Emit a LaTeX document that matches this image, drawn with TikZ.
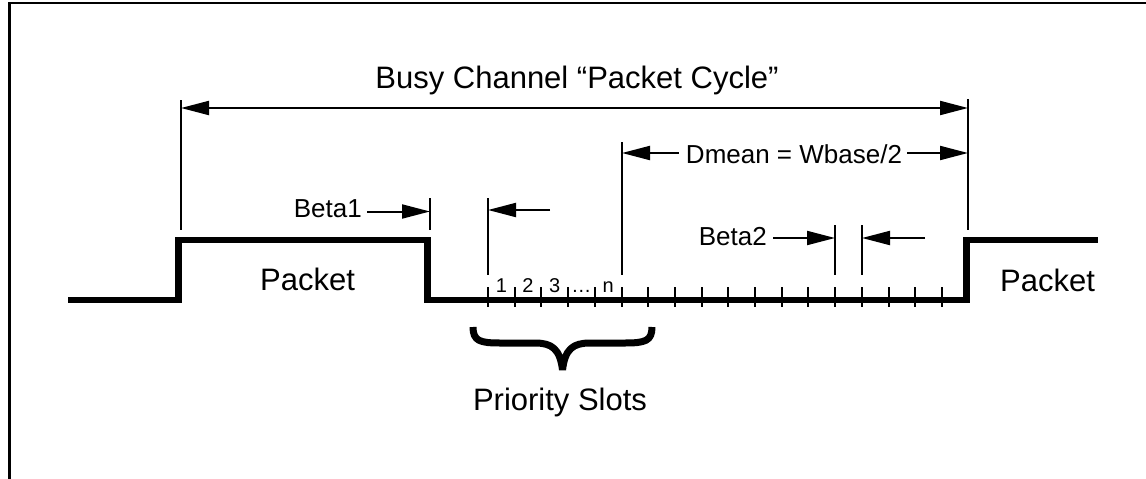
\documentclass[tikz,border=0pt]{standalone}
\usepackage{fontspec}
\setmainfont{Liberation Sans}
\usetikzlibrary{arrows.meta}
\begin{document}
\begin{tikzpicture}[x=1pt,y=-1pt,
  thinline/.style={line width=2pt},
  signal/.style={line width=6.5pt, line join=miter},
  dimarrow/.style={line width=2pt,-{Triangle[length=28pt,width=14pt]}},
  dimboth/.style={line width=2pt,{Triangle[length=28pt,width=14pt]}-{Triangle[length=28pt,width=14pt]}},
  lbl/.style={inner sep=0pt, font=\fontsize{26}{30}\selectfont},
  bigtext/.style={inner sep=0pt, font=\fontsize{31}{36}\selectfont},
  slotnum/.style={inner sep=0pt, font=\fontsize{20}{22}\selectfont, anchor=base},
]
\useasboundingbox (0,0) rectangle (1146,479);

% frame (top and left edges)
\draw[line width=2.5pt] (9.3,479) -- (9.3,3.2) -- (1146,3.2);

% channel signal
\draw[signal] (68,300) -- (178.5,300) -- (178.5,240) -- (427.5,240)
  -- (427.5,300) -- (966.5,300) -- (966.5,240) -- (1098,240);

% slot ticks and slot numbers
\foreach \i in {0,...,17}
  \draw[thinline] ({488+26.7*\i},287) -- ({488+26.7*\i},307);
\foreach \t [count=\k] in {1,2,3,\dots,n}
  \node[slotnum] (s\k) at ({488+26.7*(\k-0.5)},292.5) {\t};

% packet labels
\node[bigtext, anchor=base] (pk1) at (307.5,290) {Packet};
\node[bigtext, anchor=base] (pk2) at (1047.5,291.5) {Packet};

% busy channel packet cycle
\coordinate (cycL) at (181,108);
\coordinate (cycR) at (968,108);
\draw[thinline] (181,100) -- (181,230);
\draw[thinline] (968,99) -- (968,230);
\draw[dimboth] (cycL) -- (cycR);
\node[bigtext, anchor=base] (cycle) at (577,88) {Busy Channel “Packet Cycle”};

% Beta1
\coordinate (b1tip) at (430,211.5);
\draw[thinline] (430,198) -- (430,230);
\node[lbl, anchor=base east] (beta1) at (362,217) {Beta1};
\draw[dimarrow, shorten <=5pt] (beta1.east |- b1tip) -- (b1tip);

% first priority slot marker
\coordinate (p1tip) at (488,210);
\coordinate (p1tail) at (550,210);
\draw[thinline] (488,198) -- (488,275);
\draw[dimarrow] (p1tail) -- (p1tip);

% Dmean
\coordinate (dmL) at (622,153);
\coordinate (dmR) at (968,153);
\draw[thinline] (622,142) -- (622,275);
\node[lbl, anchor=base] (dmean) at (794,163) {Dmean = Wbase/2};
\draw[dimarrow, shorten <=7pt] (dmean.west |- dmL) -- (dmL);
\draw[dimarrow, shorten <=5pt] (dmean.east |- dmR) -- (dmR);

% Beta2
\coordinate (b2L) at (835,238);
\coordinate (b2R) at (862,238);
\coordinate (b2tail) at (925,238);
\draw[thinline] (835,225) -- (835,275);
\draw[thinline] (862,225) -- (862,275);
\node[lbl, anchor=base east] (beta2) at (767,245) {Beta2};
\draw[dimarrow, shorten <=6pt] (beta2.east |- b2L) -- (b2L);
\draw[dimarrow] (b2tail) -- (b2R);

% priority slots brace
\draw[line width=7pt, line cap=butt, line join=bevel]
  (473,327) .. controls (473,341) and (480,343) .. (500,343) -- (535,343)
  .. controls (552,343) and (560,349) .. (562.5,370)
  .. controls (565,349) and (573,343) .. (590,343) -- (625,343)
  .. controls (645,343) and (652,341) .. (652,327);
\node[bigtext, anchor=base] (prio) at (560,410) {Priority Slots};
\end{tikzpicture}
\end{document}
